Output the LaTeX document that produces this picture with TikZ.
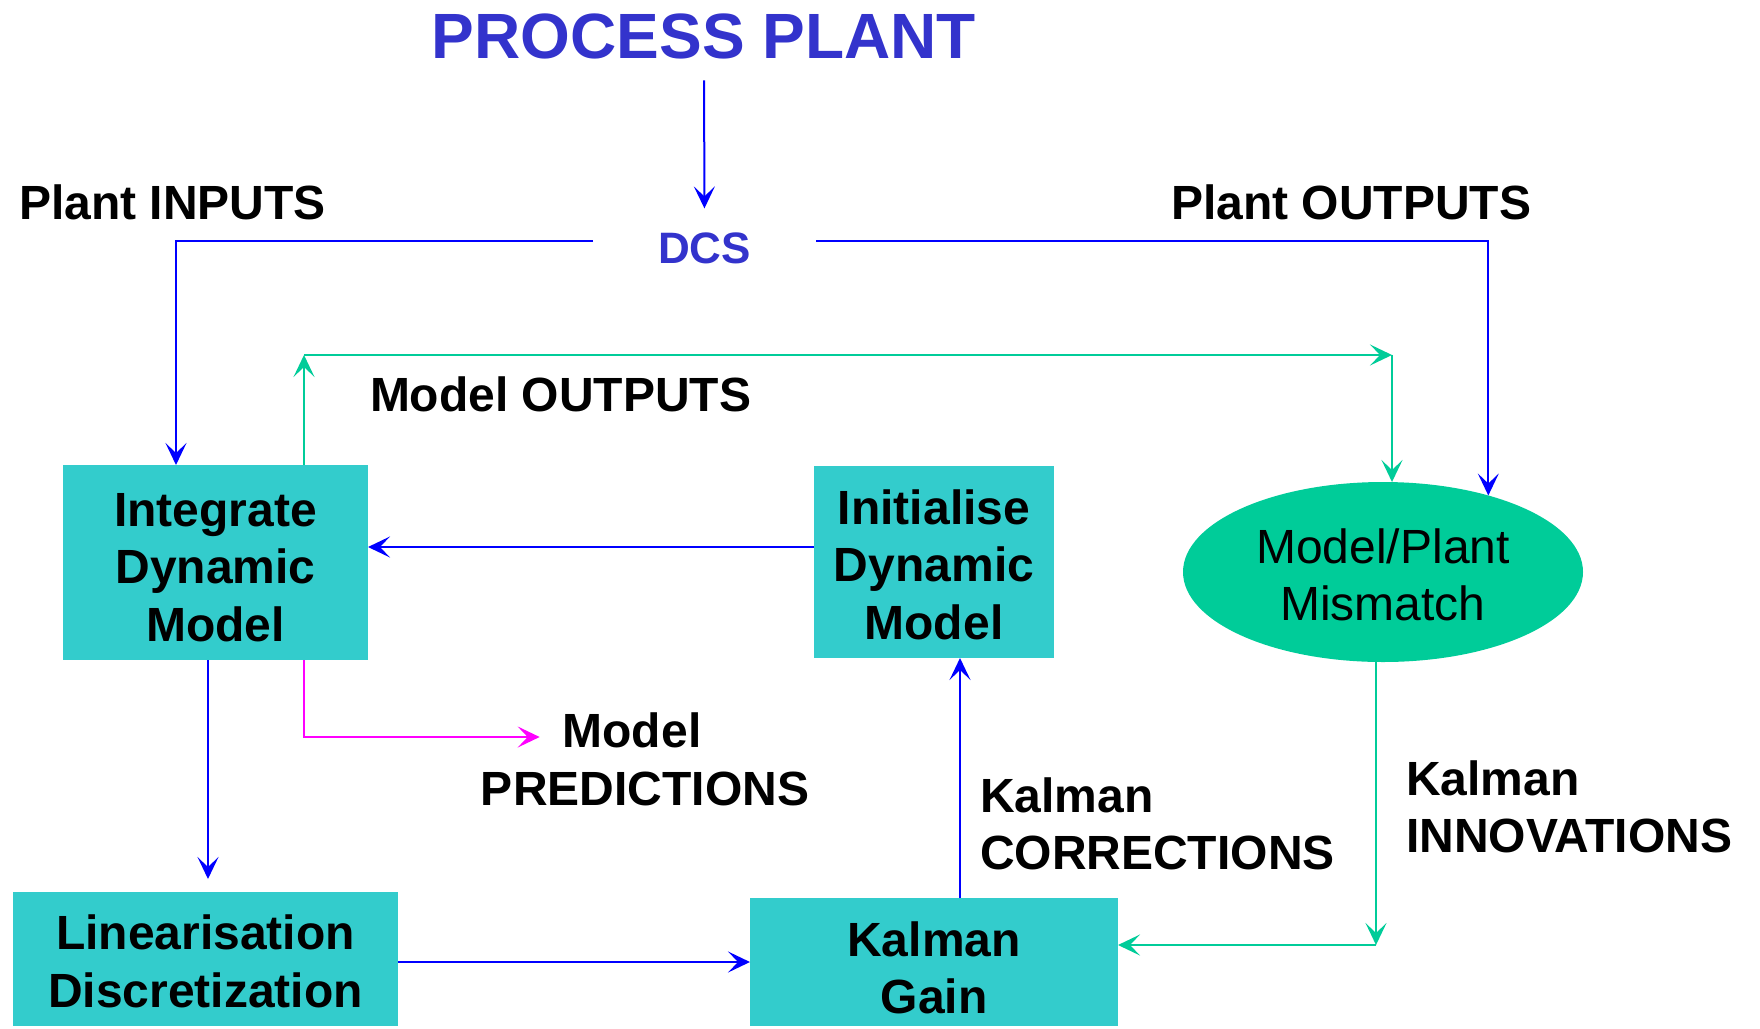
\documentclass[tikz,border=0pt]{standalone}
\usepackage{fontspec}
\setmainfont{Liberation Sans}
\usetikzlibrary{arrows.meta,shapes.geometric,calc}
\definecolor{plantblue}{HTML}{3333CC}
\definecolor{wireblue}{HTML}{0000FF}
\definecolor{wiregreen}{HTML}{00CC99}
\definecolor{boxcyan}{HTML}{33CCCC}
\definecolor{wiremagenta}{HTML}{FF00FF}
% invisible strut that lowers a block's text by half of the extra height
\newcommand{\toppad}[1]{\rule{0pt}{#1}}

\begin{document}
\begin{tikzpicture}[x=1pt,y=-1pt,
  bigfont/.style={font=\fontsize{48}{57.5}\selectfont\bfseries},
  tag/.style={bigfont, inner sep=0pt, outer sep=0pt, align=left, anchor=west},
  tagc/.style={bigfont, inner sep=0pt, outer sep=0pt},
  stage/.style={fill=boxcyan, draw=none, bigfont, align=center, inner sep=0pt, outer sep=0pt},
  arrowtip/.style={-{Stealth[length=22pt,width=21pt,inset=10pt]}},
  bluewire/.style={draw=wireblue, line width=2pt},
  greenwire/.style={draw=wiregreen, line width=2pt},
  magwire/.style={draw=wiremagenta, line width=2pt}]

\useasboundingbox (0,0) rectangle (1760,1028);

% headline and the DCS interface
\node[font=\fontsize{64}{72}\selectfont\bfseries, text=plantblue, inner sep=0pt] (plant) at (704,36.5) {PROCESS PLANT};
\node[font=\fontsize{44}{50}\selectfont\bfseries, text=plantblue, inner sep=0pt, outer sep=0pt, minimum width=223pt] (dcs) at (704.5,248) {DCS};

% processing blocks
\node[stage, minimum width=305pt, minimum height=195pt] (integ) at (215.5,562.5) {\toppad{43pt}Integrate\\Dynamic\\Model};
\node[stage, minimum width=240pt, minimum height=192pt] (init) at (934,562) {\toppad{40pt}Initialise\\Dynamic\\Model};
\node[ellipse, fill=wiregreen, minimum width=400pt, minimum height=180pt, inner sep=0pt, outer sep=0pt,
      align=center, font=\fontsize{48}{57.5}\selectfont] (mis) at (1383,572) {\toppad{40pt}Model/Plant\\Mismatch};
\node[stage, minimum width=385pt, minimum height=134pt] (lin) at (205.5,959) {\toppad{39pt}Linearisation\\Discretization};
\node[stage, minimum width=368pt, minimum height=128pt] (kg) at (934,962) {\toppad{46pt}Kalman\\Gain};

% signal labels
\node[tag] (pin) at (19,202) {Plant INPUTS};
\node[tag] (pout) at (1171,202) {Plant OUTPUTS};
\node[tag] (mout) at (370,394) {Model OUTPUTS};
\node[tag] (kcor) at (980,824) {Kalman\\CORRECTIONS};
\node[tag] (kinn) at (1406,807) {Kalman\\INNOVATIONS};
\node[tagc] (predA) at (632,730) {Model};
\node[tagc] (predB) at (645,789) {PREDICTIONS};

% corner points of the routed connectors
\coordinate (moUp) at (304,355);
\coordinate (moRight) at (1392,355);
\coordinate (predTurn) at (304,737);
\coordinate (innTurn) at (1376,945);
\coordinate (initOut) at ([yshift=15pt]init.west);
\coordinate (linIn) at ([xshift=-7.5pt]integ.south);
\coordinate (kgUp) at ([xshift=26pt]kg.north);

% plant data through the DCS
\draw[bluewire, arrowtip, shorten <=21pt, shorten >=24pt] (plant.south) -- (dcs.north);
\draw[bluewire, arrowtip] ([yshift=7pt]dcs.west) -| ([xshift=113pt]integ.north west);
\draw[bluewire, arrowtip] ([yshift=7pt]dcs.east) -| (mis.36);

% model outputs to the mismatch
\draw[greenwire, arrowtip] (integ.north -| moUp) -- (moUp);
\draw[greenwire, arrowtip] (moUp) -- (moRight);
\draw[greenwire, arrowtip] (moRight) -- (moRight |- mis.north);

% estimator loop
\draw[bluewire, arrowtip] (initOut) -- (initOut -| integ.east);
\draw[bluewire, arrowtip, shorten >=13pt] (linIn) -- (linIn |- lin.north);
\draw[magwire, arrowtip, shorten >=23pt] (integ.south -| predTurn) -- (predTurn) -- (predTurn -| predA.west);
\draw[bluewire, arrowtip] (kg.west -| lin.east) -- (kg.west);
\draw[bluewire, arrowtip] (kgUp) -- (kgUp |- init.south);
\draw[greenwire, arrowtip] (mis.south -| innTurn) -- (innTurn);
\draw[greenwire, arrowtip] (innTurn) -- (innTurn -| kg.east);

\end{tikzpicture}
\end{document}
